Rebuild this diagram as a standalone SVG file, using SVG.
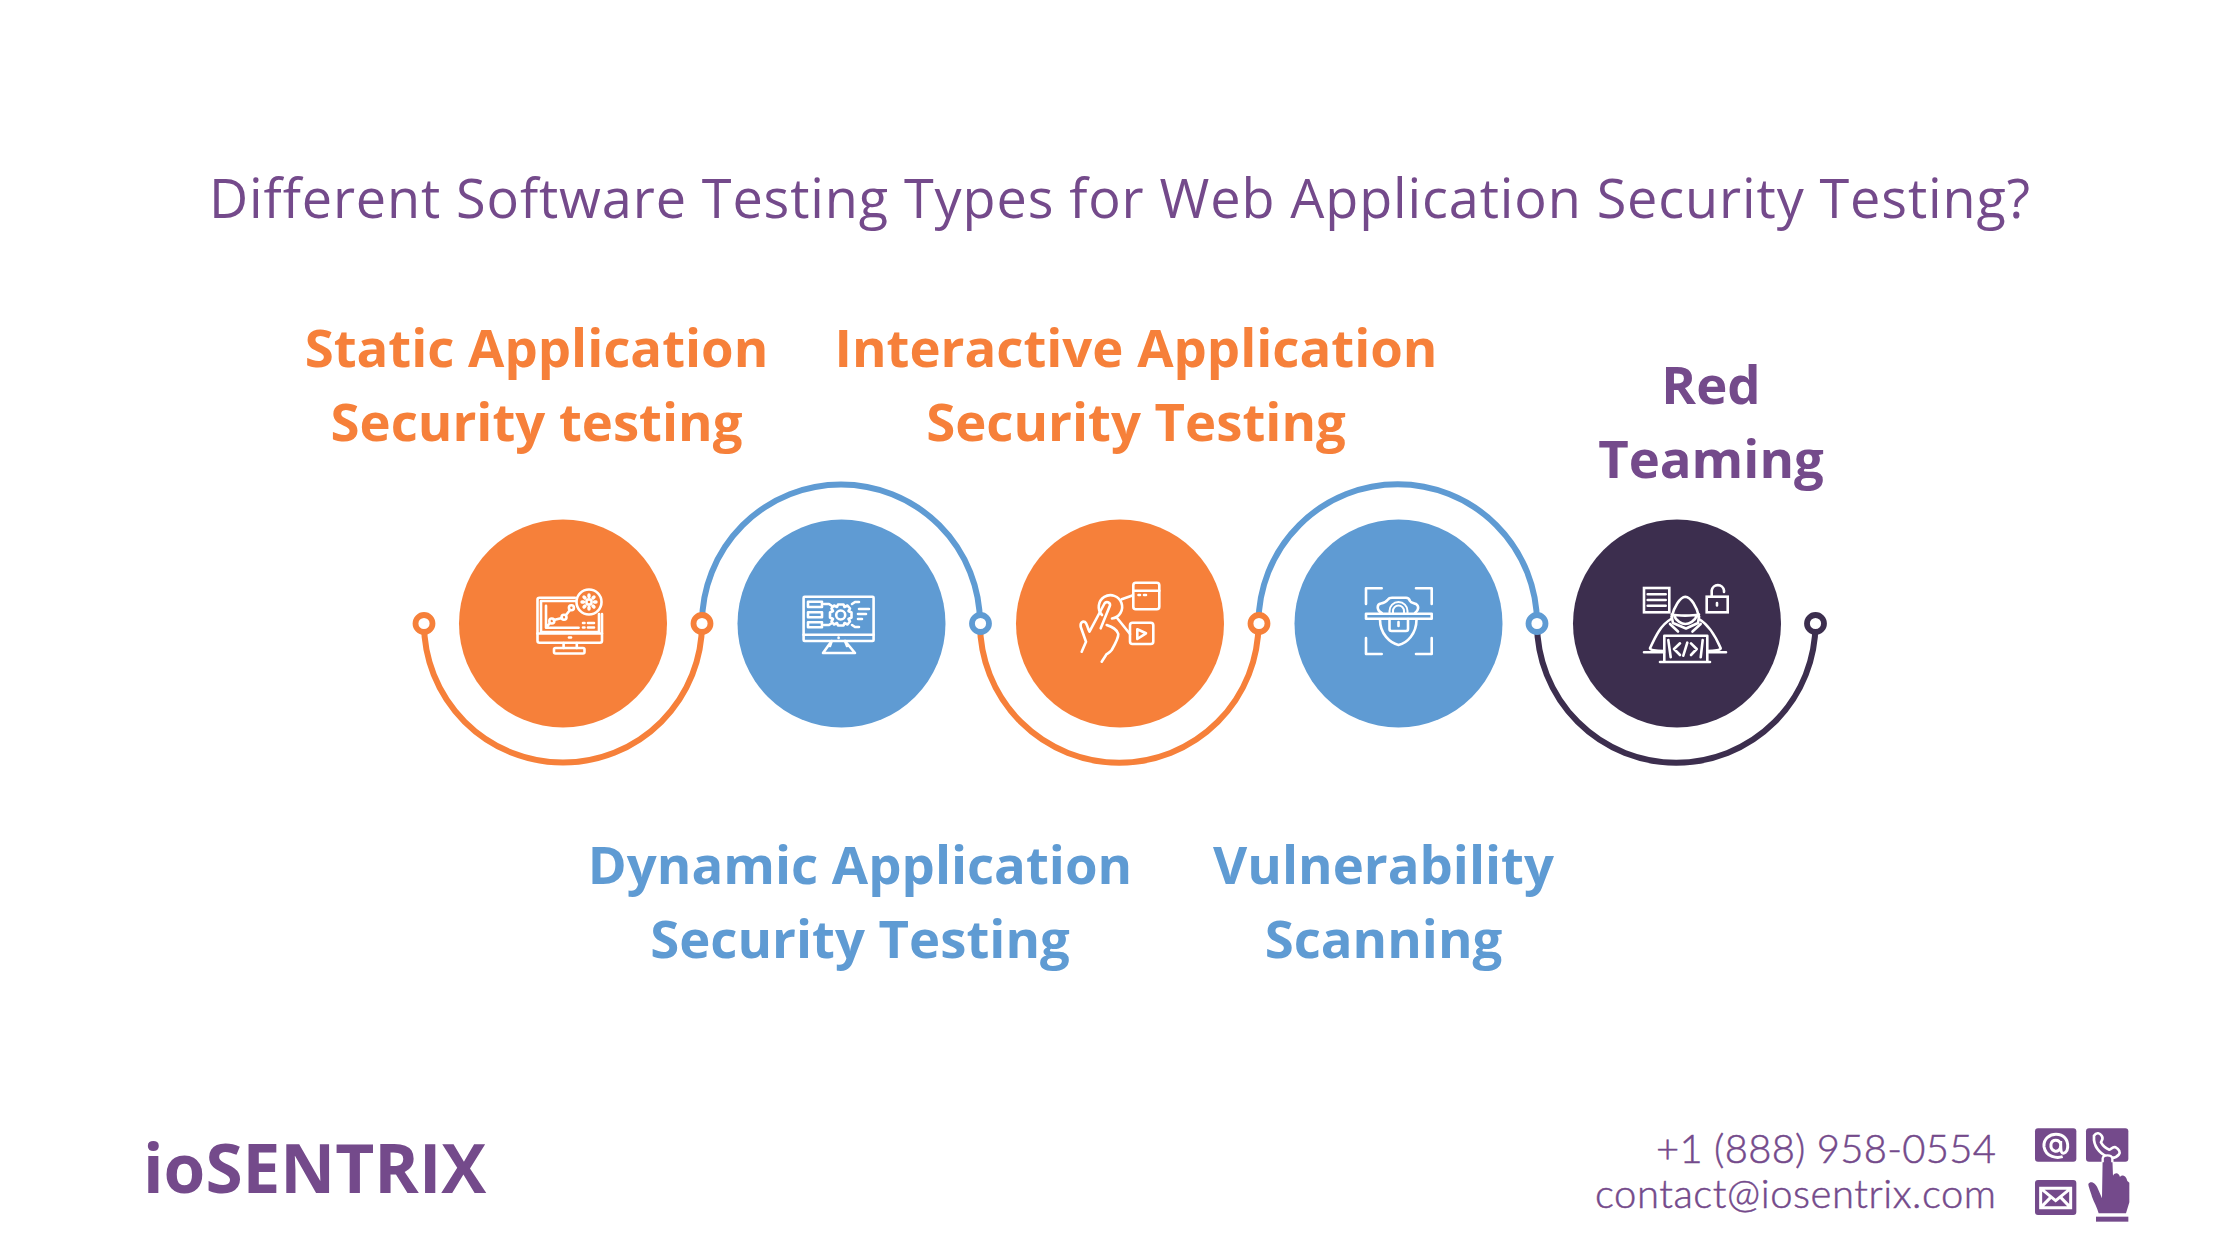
<svg xmlns="http://www.w3.org/2000/svg" width="2240" height="1260" viewBox="0 0 2240 1260">
<style>
.title{font:400 54px "Open Sans",sans-serif;letter-spacing:.88px;fill:#744A8B;text-anchor:middle}
.lab{font:700 52.7px "Open Sans",sans-serif;text-anchor:middle}
.or{fill:#F6803A}.bl{fill:#5F9BD3}.pu{fill:#744A8B}
.arc{fill:none;stroke-width:6}
.dot{fill:#fff;stroke-width:5.8}
.ic{fill:none;stroke:#fff;stroke-width:2.6;stroke-linecap:round;stroke-linejoin:round}
.brand{font:700 67.5px "Open Sans",sans-serif;fill:#744A8B}
.ct{font:300 40px Lato,sans-serif;fill:#744A8B;stroke:#744A8B;stroke-width:.5;text-anchor:end}
</style>
<rect width="2240" height="1260" fill="#fff"/>
<text class="title" x="1120" y="217.5">Different Software Testing Types for Web Application Security Testing?</text>
<g id="connectors">
<path class="arc" stroke="#F6803A" d="M424 623.5A139 139 0 0 0 702 623.5"/>
<path class="arc" stroke="#5F9BD3" d="M702 623.5A139 139 0 0 1 980 623.5"/>
<path class="arc" stroke="#F6803A" d="M980 623.5A139 139 0 0 0 1258.5 623.5"/>
<path class="arc" stroke="#5F9BD3" d="M1258.5 623.5A139 139 0 0 1 1537 623.5"/>
<path class="arc" stroke="#3C2E4E" d="M1537 623.5A139 139 0 0 0 1815.5 623.5"/>
<circle class="dot" stroke="#F6803A" cx="424" cy="623.5" r="8.5"/>
<circle class="dot" stroke="#F6803A" cx="702" cy="623.5" r="8.5"/>
<circle class="dot" stroke="#5F9BD3" cx="980.5" cy="623.5" r="8.5"/>
<circle class="dot" stroke="#F6803A" cx="1259" cy="623.5" r="8.5"/>
<circle class="dot" stroke="#5F9BD3" cx="1537" cy="623.5" r="8.5"/>
<circle class="dot" stroke="#3C2E4E" cx="1815.5" cy="623.5" r="8.5"/>
</g>
<g id="node-static">
<circle class="or" cx="563" cy="623.5" r="104"/>
<g class="ic">
<path d="M575 597.7H539.5a2 2 0 0 0-2 2V640.7a2 2 0 0 0 2 2H600a2 2 0 0 0 2-2V614"/>
<path d="M576 601H541V632H599V614"/>
<path d="M537.5 633.5H602M563.6 643V648M576.8 643V648"/>
<rect x="554" y="648" width="30.5" height="5.5" rx="1.5"/>
<path d="M546 605.7V627.7H578.6M546 627.7L550 623M553.8 620L562 618M566 615L570 610"/>
<circle cx="551.8" cy="621" r="2.5"/><circle cx="564" cy="617.3" r="2.5"/><circle cx="571.4" cy="607.7" r="2.5"/>
<path d="M583 623H584.5M588 623H594M583 627.5H584.5M588 627.5H594"/>
<circle cx="589" cy="602" r="12.5"/><circle cx="589" cy="602" r="2.6"/>
<path d="M589 596.5V595M589 607.5V609M583.5 602H582M594.5 602H596M585 598L584 597M593 598L594 597M585 606L584 607M593 606L594 607" stroke-width="3.4"/>
<path d="M569 637.5H571"/>
</g>
</g>
<g id="node-dynamic">
<circle class="bl" cx="841.5" cy="623.5" r="104"/>
<g class="ic">
<rect x="803.6" y="596.7" width="70" height="44.3" rx="1"/>
<path d="M803.6 634.7H873.6M838.6 637.5V638M831.7 641L823 653H855L845 641M831.7 641L830 646M845 641L847 646" />
<rect x="808" y="601.7" width="14" height="5.3"/><rect x="808" y="612.3" width="14" height="5"/><rect x="808" y="622.3" width="14" height="5"/>
<path d="M824 604H829L832 606M824 625H829L832 623M852 604L855 602H859M852 625L855 627H859M859 609H869M858 614H866M858 619H862"/>
<circle cx="840.7" cy="615" r="4.5"/>
<path d="M838 604.5L843.5 604.5L844.5 607L847.5 605.5L850 608.5L848.5 611L851.5 612.5V617.5L848.5 619L850 621.5L847.5 624.5L844.5 623L843.5 625.5H838L837 623L834 624.5L831.5 621.5L833 619L830 617.5V612.5L833 611L831.5 608.5L834 605.5L837 607Z"/>
</g>
</g>
<g id="node-interactive">
<circle class="or" cx="1120" cy="623.5" r="104"/>
<g class="ic">
<rect x="1133.3" y="582.7" width="26" height="26.6" rx="2.5"/>
<path d="M1133.3 590.7H1159.3M1138.5 595H1140M1144 595H1146M1121.7 599.3L1131.7 595.7M1117.3 618.3L1130 634"/>
<rect x="1130" y="622.7" width="23.3" height="21.3" rx="2.5"/>
<path d="M1137.3 629.3L1146 633.3L1137.3 639Z"/>
<path d="M1102 615A11.7 11.7 0 1 1 1112 618.5"/>
<path d="M1081.7 651.7L1086 641.7L1080.7 626.7C1080 622 1083 621 1085 622C1087 623 1087 627 1089.5 631.7L1104.5 603.5C1106 601 1110.5 602 1110 605.5L1100.7 628.3"/>
<path d="M1106.7 625C1112 627 1117 629 1118.3 634C1118.5 637 1114 646 1111.7 650C1110 652 1107 654 1106.7 654L1101.7 661.7"/>
</g>
</g>
<g id="node-vulnerability">
<circle class="bl" cx="1398.5" cy="623.5" r="104"/>
<g class="ic">
<path d="M1366 604V588.3H1381.7M1416 588.3H1431.7V604M1366 638V654H1381.7M1416 654H1431.7V638"/>
<rect x="1366" y="613.7" width="65.7" height="5" fill="none"/>
<path d="M1381.7 613C1376 610 1377 604 1381 603.5C1385 603 1386 602 1388 599.5C1389 597.7 1390 597.7 1392 597.7H1406C1408 597.7 1409 598 1410 601C1411 603 1414 603 1416 604C1419 606 1419 610 1415 613"/>
<path d="M1380 619.5C1380 634 1390 643 1398.5 645C1407 643 1416.5 634 1416.5 619.5"/>
<path d="M1389.5 619V629a2 2 0 0 0 2 2H1406a2 2 0 0 0 2-2V619M1398.5 622V626"/>
<path d="M1389.5 613V611a9 9 0 0 1 18 0V613M1393 613V611a5.5 5.5 0 0 1 11 0V613" stroke-width="2"/>
</g>
</g>
<g id="node-red-teaming">
<circle fill="#3C2E4E" cx="1677" cy="623.5" r="104"/>
<g class="ic">
<rect x="1644" y="588" width="25.3" height="24.3" stroke-linejoin="miter"/>
<path d="M1647.7 594.3H1665.7M1647.7 600H1665.7M1647.7 605.7H1665.7"/>
<rect x="1706.7" y="596.7" width="21" height="15.6" stroke-linejoin="miter"/>
<path d="M1711.7 596V590.5a6.2 6.2 0 0 1 12.3 0V592M1717 603V605.5"/>
<path d="M1671.7 616.7C1674 607 1680 597 1685.3 596.7C1691 597 1697 607 1699 616.7"/>
<path d="M1671.7 614.5C1678 616 1692 616 1699 614.5M1674 615.5C1676 621 1682 624 1685.3 624C1689 624 1695 621 1697 615.5M1671.7 616.7L1673 623L1686 628.5L1698 623L1699 616.7"/>
<path d="M1671 619C1661 625 1656 635 1650 648.3C1650 650 1655 651 1664 651M1699 619C1709 625 1715 635 1720.7 648.3C1720.7 650 1715 651 1707.3 651"/>
<path d="M1670 624L1678 631.5M1700.7 624L1692.5 631.5"/>
<path d="M1644 652.3H1664M1707.3 652.3H1726"/>
<path d="M1664.3 661.7V635.7H1707.3V661.7M1660 662H1710"/>
<path d="M1668.3 640L1670.7 657.3M1702.7 640L1700.7 657.3M1680 643.3L1674 649L1680 655M1691 643.3L1696.7 649L1691 655M1687.3 642.7L1683.3 655.7"/>
</g>
</g>
<text class="lab or" x="536.5" y="367">Static Application</text>
<text class="lab or" x="536.5" y="441">Security testing</text>
<text class="lab or" x="1136" y="367">Interactive Application</text>
<text class="lab or" x="1136" y="441">Security Testing</text>
<text class="lab pu" x="1711" y="404">Red</text>
<text class="lab pu" x="1711" y="478">Teaming</text>
<text class="lab bl" x="860" y="884">Dynamic Application</text>
<text class="lab bl" x="860" y="958">Security Testing</text>
<text class="lab bl" x="1383.5" y="884">Vulnerability</text>
<text class="lab bl" x="1383.5" y="958">Scanning</text>
<text class="brand" x="143" y="1193">ioSENTRIX</text>
<text class="ct" x="1996" y="1163" textLength="340" lengthAdjust="spacing">+1 (888) 958-0554</text>
<text class="ct" x="1996" y="1208" textLength="401" lengthAdjust="spacing">contact@iosentrix.com</text>
<g id="contact-icons" transform="translate(2020 1115) scale(.33333)">
<rect class="pu" x="45" y="40" width="124" height="100" rx="9"/>
<rect class="pu" x="198" y="40" width="127" height="100" rx="9"/>
<rect class="pu" x="45" y="195" width="124" height="105" rx="9"/>
<path d="M128 125C112 130 78 128 72 95C70 70 90 58 108 58C130 58 145 72 143 97C142 112 132 117 126 113C122 110 122 104 122 78M122 92C122 105 112 110 104 108C94 105 92 95 93 88C96 72 118 72 122 88" fill="none" stroke="#fff" stroke-width="9"/>
<path d="M222 62C230 50 240 55 245 62C252 72 244 76 243 82C250 95 258 100 268 104C274 103 278 93 287 97C297 102 302 112 297 118C290 127 280 130 270 128C245 122 225 100 222 75Z" fill="none" stroke="#fff" stroke-width="8"/>
<path d="M62 220H152V278H62ZM62 220L107 257L152 220M62 278L92 247M152 278L122 247" fill="none" stroke="#fff" stroke-width="9"/>
<path class="pu" d="M248 130C250 118 275 118 277 130L279 182C285 172 296 172 300 186C305 178 318 180 322 198L328 203V262L318 295H236C232 278 222 262 216 245C212 230 205 215 205 207C212 195 228 205 233 220L246 250Z"/>
<path d="M248 142V130C250 118 275 118 277 130V142" fill="none" stroke="#fff" stroke-width="7"/>
<rect class="pu" x="228" y="305" width="97" height="15"/>
</g>
</svg>
